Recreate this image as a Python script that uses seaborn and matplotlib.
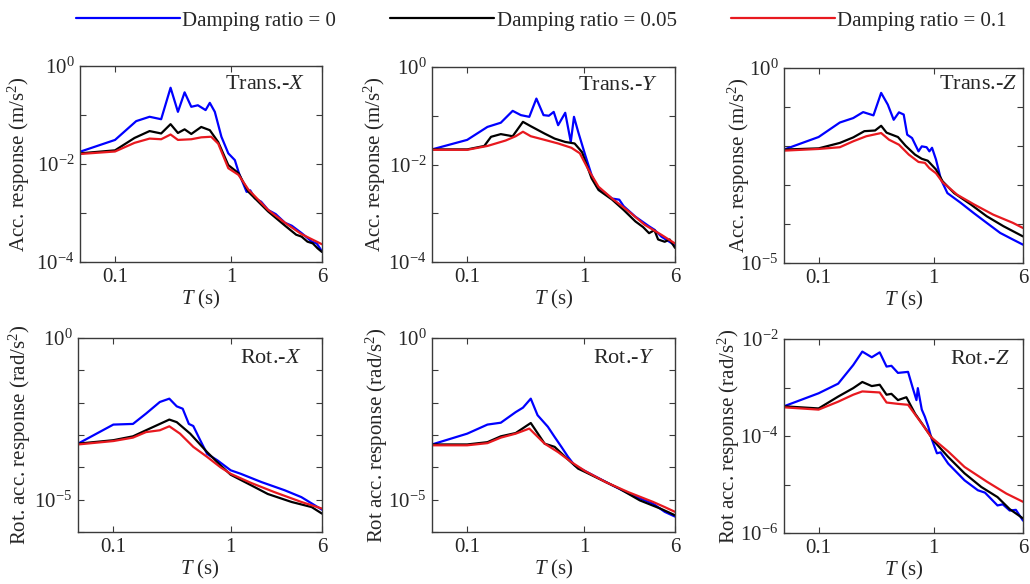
import numpy as np
import pandas as pd
import matplotlib
matplotlib.use("Agg")
import matplotlib.pyplot as plt
import seaborn as sns
from matplotlib.ticker import FixedLocator, FuncFormatter, NullLocator

# ---------------- data ----------------
damping_labels = ["Damping ratio = 0", "Damping ratio = 0.05", "Damping ratio = 0.1"]
line_colors = ["#0000ff", "#000000", "#e8191f"]

# Trans.-X
tx_T0 = [0.05, 0.1, 0.152, 0.198, 0.249, 0.30, 0.347, 0.396, 0.452, 0.515, 0.60, 0.652, 0.72, 0.82, 0.94, 1.07, 1.16, 1.35, 1.45, 1.59, 1.8, 2.07, 2.4, 2.89, 3.3, 4.0, 4.5, 4.9, 5.4, 6.0]
tx_A0 = [0.0178, 0.031, 0.075, 0.092, 0.082, 0.36, 0.116, 0.29, 0.147, 0.158, 0.126, 0.177, 0.116, 0.036, 0.0165, 0.012, 0.0065, 0.0027, 0.0029, 0.002, 0.0017, 0.00115, 0.00095, 0.00063, 0.00055, 0.00039, 0.00031, 0.00026, 0.00024, 0.000165]
tx_T1 = [0.05, 0.1, 0.147, 0.198, 0.249, 0.30, 0.347, 0.396, 0.452, 0.55, 0.652, 0.77, 0.94, 1.15, 1.40, 2.07, 2.89, 3.6, 4.0, 4.5, 5.0, 5.5, 6.0]
tx_A1 = [0.0165, 0.019, 0.034, 0.047, 0.042, 0.065, 0.043, 0.051, 0.041, 0.057, 0.049, 0.028, 0.0095, 0.0065, 0.0027, 0.00107, 0.00055, 0.00036, 0.00033, 0.00026, 0.00024, 0.00019, 0.00016]
tx_T2 = [0.05, 0.1, 0.147, 0.198, 0.249, 0.30, 0.347, 0.452, 0.55, 0.67, 0.77, 0.94, 1.15, 1.40, 2.07, 2.89, 4.0, 6.0]
tx_A2 = [0.016, 0.018, 0.027, 0.033, 0.032, 0.040, 0.031, 0.032, 0.035, 0.036, 0.026, 0.0082, 0.006, 0.003, 0.00115, 0.00063, 0.00037, 0.00023]

# Trans.-Y
ty_T0 = [0.05, 0.1, 0.149, 0.194, 0.245, 0.288, 0.34, 0.391, 0.45, 0.50, 0.55, 0.60, 0.69, 0.77, 0.82, 0.89, 1.02, 1.16, 1.29, 1.74, 2.0, 2.18, 2.75, 3.6, 4.0, 4.6, 6.0]
ty_A0 = [0.0204, 0.032, 0.059, 0.072, 0.126, 0.103, 0.095, 0.225, 0.103, 0.10, 0.12, 0.064, 0.115, 0.029, 0.095, 0.047, 0.016, 0.0061, 0.0035, 0.002, 0.0019, 0.0014, 0.00085, 0.00054, 0.00046, 0.00033, 0.00022]
ty_T1 = [0.05, 0.1, 0.14, 0.16, 0.194, 0.245, 0.30, 0.35, 0.46, 0.56, 0.69, 0.83, 0.96, 1.16, 1.33, 1.74, 2.18, 2.75, 3.2, 3.6, 4.0, 4.3, 4.9, 5.4, 6.0]
ty_A1 = [0.0204, 0.0204, 0.024, 0.037, 0.042, 0.038, 0.075, 0.061, 0.043, 0.034, 0.029, 0.027, 0.018, 0.0052, 0.003, 0.0019, 0.00117, 0.00068, 0.00052, 0.00039, 0.00045, 0.00029, 0.00026, 0.00029, 0.000195]
ty_T2 = [0.05, 0.1, 0.149, 0.213, 0.26, 0.30, 0.35, 0.46, 0.60, 0.78, 0.92, 1.09, 1.33, 1.74, 2.4, 3.3, 4.6, 6.0]
ty_A2 = [0.02, 0.02, 0.024, 0.031, 0.038, 0.047, 0.038, 0.032, 0.027, 0.022, 0.017, 0.0078, 0.0035, 0.002, 0.0011, 0.00058, 0.00036, 0.00024]

# Trans.-Z
tz_T0 = [0.05, 0.1, 0.153, 0.2, 0.244, 0.3, 0.35, 0.40, 0.45, 0.50, 0.55, 0.59, 0.65, 0.74, 0.79, 0.87, 0.92, 0.97, 1.05, 1.16, 1.32, 1.72, 2.24, 2.9, 3.8, 4.9, 6.0]
tz_A0 = [0.0081, 0.017, 0.04, 0.052, 0.074, 0.061, 0.23, 0.115, 0.047, 0.073, 0.064, 0.0195, 0.016, 0.0073, 0.0098, 0.0093, 0.0073, 0.009, 0.0045, 0.00138, 0.00062, 0.00035, 0.00019, 0.000107, 5.9e-5, 4.0e-5, 2.95e-5]
tz_T1 = [0.05, 0.1, 0.153, 0.2, 0.25, 0.31, 0.35, 0.39, 0.49, 0.57, 0.69, 0.79, 0.89, 1.05, 1.2, 1.51, 2.1, 2.9, 4.05, 6.0]
tz_A1 = [0.0081, 0.0087, 0.012, 0.0166, 0.024, 0.025, 0.033, 0.022, 0.017, 0.0102, 0.006, 0.0047, 0.0042, 0.0025, 0.00124, 0.00062, 0.00032, 0.000158, 8.8e-5, 4.8e-5]
tz_T2 = [0.05, 0.1, 0.153, 0.2, 0.26, 0.35, 0.41, 0.50, 0.61, 0.74, 0.84, 0.92, 1.05, 1.2, 1.61, 2.24, 3.3, 4.9, 6.0]
tz_A2 = [0.0076, 0.0084, 0.0093, 0.0132, 0.0178, 0.0215, 0.0145, 0.0108, 0.006, 0.0039, 0.0037, 0.0027, 0.002, 0.00117, 0.00056, 0.00032, 0.000174, 0.000107, 7.9e-5]

# Rot.-X
rx_T0 = [0.05, 0.1, 0.147, 0.19, 0.249, 0.30, 0.347, 0.39, 0.44, 0.48, 0.55, 0.63, 0.77, 1.0, 1.22, 1.83, 2.89, 4.0, 6.0]
rx_A0 = [5.4e-4, 2.1e-3, 2.2e-3, 4.6e-3, 0.0105, 0.0133, 0.0077, 0.0065, 0.0022, 0.0019, 6.9e-4, 2.6e-4, 1.65e-4, 8.1e-5, 6.3e-5, 3.5e-5, 1.95e-5, 1.2e-5, 4.9e-6]
rx_T1 = [0.05, 0.1, 0.147, 0.204, 0.30, 0.347, 0.452, 0.63, 0.82, 1.0, 1.49, 2.07, 3.3, 4.9, 6.0]
rx_A1 = [5.4e-4, 6.9e-4, 9.1e-4, 1.58e-3, 3.0e-3, 2.5e-3, 1.1e-3, 2.95e-4, 1.15e-4, 5.9e-5, 2.8e-5, 1.5e-5, 8.5e-6, 5.9e-6, 3.7e-6]
rx_T2 = [0.05, 0.1, 0.147, 0.19, 0.249, 0.30, 0.37, 0.48, 0.63, 0.82, 1.0, 1.49, 2.37, 4.0, 6.0]
rx_A2 = [5.1e-4, 6.5e-4, 8.3e-4, 1.23e-3, 1.4e-3, 1.86e-3, 1.1e-3, 4.3e-4, 2.1e-4, 1.0e-4, 6.3e-5, 3.3e-5, 1.7e-5, 8.5e-6, 5.3e-6]

# Rot.-Y
ry_T0 = [0.05, 0.1, 0.149, 0.194, 0.26, 0.30, 0.35, 0.40, 0.49, 0.56, 0.64, 0.73, 0.83, 1.02, 1.24, 1.74, 2.6, 3.9, 4.9, 6.0]
ry_A0 = [5.1e-4, 1.1e-3, 2.1e-3, 2.4e-3, 5.1e-3, 7.0e-3, 0.0133, 4.1e-3, 1.8e-3, 8.7e-4, 4.3e-4, 2.1e-4, 1.15e-4, 7.7e-5, 5.3e-5, 2.8e-5, 1.36e-5, 7.5e-6, 4.2e-6, 3.0e-6]
ry_T1 = [0.05, 0.1, 0.149, 0.194, 0.26, 0.35, 0.46, 0.56, 0.69, 0.89, 1.02, 1.33, 2.0, 3.0, 4.5, 6.0]
ry_A1 = [5.1e-4, 5.1e-4, 6.0e-4, 9.1e-4, 1.15e-3, 2.35e-3, 5.4e-4, 4.3e-4, 2.1e-4, 9.1e-5, 7.2e-5, 4.5e-5, 2.2e-5, 9.5e-6, 5.3e-6, 3.3e-6]
ry_T2 = [0.05, 0.1, 0.149, 0.194, 0.26, 0.34, 0.46, 0.60, 0.78, 1.02, 1.53, 2.4, 3.9, 4.9, 6.0]
ry_A2 = [4.8e-4, 4.8e-4, 5.6e-4, 8.3e-4, 1.1e-3, 1.58e-3, 5.4e-4, 2.95e-4, 1.45e-4, 7.7e-5, 3.5e-5, 1.7e-5, 8.5e-6, 5.9e-6, 4.2e-6]

# Rot.-Z
rz_T0 = [0.05, 0.1, 0.148, 0.2, 0.24, 0.29, 0.34, 0.39, 0.43, 0.49, 0.60, 0.66, 0.71, 0.73, 0.79, 0.84, 0.90, 0.96, 1.07, 1.15, 1.34, 1.86, 2.43, 2.8, 3.6, 4.0, 4.6, 5.2, 6.0]
rz_A0 = [4.1e-4, 7.6e-4, 1.2e-3, 2.9e-3, 5.5e-3, 4.2e-3, 5.3e-3, 2.7e-3, 2.8e-3, 2.0e-3, 2.1e-3, 9.7e-4, 5.5e-4, 9.7e-4, 3.5e-4, 2.5e-4, 1.55e-4, 8.9e-5, 4.4e-5, 4.6e-5, 2.7e-5, 1.22e-5, 7.6e-6, 6.8e-6, 3.7e-6, 3.9e-6, 2.9e-6, 3.0e-6, 1.8e-6]
rz_T1 = [0.05, 0.1, 0.148, 0.2, 0.24, 0.29, 0.34, 0.39, 0.43, 0.49, 0.58, 0.69, 0.83, 1.02, 1.34, 1.86, 2.6, 3.6, 4.6, 6.0]
rz_A1 = [4.1e-4, 3.7e-4, 6.5e-4, 9.7e-4, 1.3e-3, 1.07e-3, 1.14e-3, 7.1e-4, 7.4e-4, 5.5e-4, 6.3e-4, 2.9e-4, 1.55e-4, 7.6e-5, 3.7e-5, 1.7e-5, 8.9e-6, 5.5e-6, 3.1e-6, 2.0e-6]
rz_T2 = [0.05, 0.1, 0.148, 0.2, 0.24, 0.34, 0.39, 0.49, 0.60, 0.79, 0.96, 1.34, 1.86, 2.9, 4.3, 6.0]
rz_A2 = [3.9e-4, 3.5e-4, 5.1e-4, 7.1e-4, 8.3e-4, 7.9e-4, 4.9e-4, 4.6e-4, 4.4e-4, 1.8e-4, 9.3e-5, 4.8e-5, 2.3e-5, 1.15e-5, 6.5e-6, 4.4e-6]

panel_titles = ["Trans.-$X$", "Trans.-$Y$", "Trans.-$Z$", "Rot.-$X$", "Rot.-$Y$", "Rot.-$Z$"]
panel_ylabels = ["Acc. response (m/s$^2$)", "Acc. response (m/s$^2$)", "Acc. response (m/s$^2$)",
                 "Rot. acc. response (rad/s$^2$)", "Rot acc. response (rad/s$^2$)", "Rot acc. response (rad/s$^2$)"]
panel_ylims = [(1e-4, 1e0), (1e-4, 1e0), (1e-5, 1e0), (1e-6, 1e0), (1e-6, 1e0), (1e-6, 1e-2)]
panel_yticklabels = [[0, -2, -4], [0, -2, -4], [0, -5], [0, -5], [0, -5], [-2, -4, -6]]
x_ticks = [0.1, 1, 6]
x_ticklabels = ["0.1", "1", "6"]

panels = [
    (tx_T0, tx_A0, tx_T1, tx_A1, tx_T2, tx_A2),
    (ty_T0, ty_A0, ty_T1, ty_A1, ty_T2, ty_A2),
    (tz_T0, tz_A0, tz_T1, tz_A1, tz_T2, tz_A2),
    (rx_T0, rx_A0, rx_T1, rx_A1, rx_T2, rx_A2),
    (ry_T0, ry_A0, ry_T1, ry_A1, ry_T2, ry_A2),
    (rz_T0, rz_A0, rz_T1, rz_A1, rz_T2, rz_A2),
]

# ---------------- style ----------------
sns.set_style("ticks")
plt.rcParams["font.family"] = ["Liberation Serif", "DejaVu Serif"]
plt.rcParams["mathtext.fontset"] = "custom"
plt.rcParams["mathtext.rm"] = "Liberation Serif"
plt.rcParams["mathtext.it"] = "Liberation Serif:italic"
plt.rcParams["mathtext.bf"] = "Liberation Serif:bold"

W, H = 1030, 584
fig = plt.figure(figsize=(W / 100, H / 100), dpi=100)

# pixel boxes: (left, top, right, bottom)
boxes = [(80, 66, 322, 262), (432, 67, 675, 262), (784, 68, 1023, 263),
         (78, 338, 322, 532), (432, 338, 675, 532), (784, 339, 1023, 533)]
label_x = [-0.198, -0.181, -0.134, -0.184, -0.173, -0.176]
title_pos = [(0.93, 0.905), (0.93, 0.905), (0.975, 0.915), (0.915, 0.895), (0.915, 0.895), (0.945, 0.895)]

palette = dict(zip(damping_labels, line_colors))
spine_col = "#3a3a3a"

for i, (box, data) in enumerate(zip(boxes, panels)):
    l, t, r, b = box
    ax = fig.add_axes([l / W, 1 - b / H, (r - l) / W, (b - t) / H])
    frames = []
    for k in range(3):
        frames.append(pd.DataFrame({"T": data[2 * k], "A": data[2 * k + 1], "damping": damping_labels[k]}))
    df = pd.concat(frames, ignore_index=True)
    sns.lineplot(data=df, x="T", y="A", hue="damping", palette=palette, hue_order=damping_labels,
                 estimator=None, sort=False, legend=False, linewidth=1.6, ax=ax)
    ax.set_xscale("log")
    ax.set_yscale("log")
    ax.set_xlim(0.05, 6)
    ax.set_ylim(*panel_ylims[i])

    ax.xaxis.set_major_locator(FixedLocator(x_ticks))
    ax.xaxis.set_major_formatter(FuncFormatter(lambda v, p: x_ticklabels[x_ticks.index(v)] if v in x_ticks else ""))
    ax.xaxis.set_minor_locator(NullLocator())

    lo, hi = panel_ylims[i]
    decs = list(range(int(round(np.log10(lo))), int(round(np.log10(hi))) + 1))
    ax.yaxis.set_major_locator(FixedLocator([10.0 ** d for d in decs]))
    shown = panel_yticklabels[i]
    ax.yaxis.set_major_formatter(FuncFormatter(
        lambda v, p, shown=shown: ("10$^{%d}$" % int(round(np.log10(v))))
        if int(round(np.log10(v))) in shown else ""))
    ax.yaxis.set_minor_locator(NullLocator())

    ax.tick_params(which="both", direction="in", top=True, right=True, length=4, width=0.8,
                   color=spine_col, labelsize=15, pad=4)
    for s in ax.spines.values():
        s.set_color(spine_col)
        s.set_linewidth(1.0)

    ax.set_xlabel("$T$ (s)", fontsize=15, labelpad=1)
    ax.set_ylabel(panel_ylabels[i], fontsize=15)
    ax.yaxis.set_label_coords(label_x[i], 0.5)
    ax.text(title_pos[i][0], title_pos[i][1], panel_titles[i], transform=ax.transAxes,
            ha="right", va="center", fontsize=16)
    if i == 0:
        legend_handles = ax.get_lines()[:3]

fig.legend(handles=legend_handles, labels=damping_labels, loc="center left",
           bbox_to_anchor=(76 / W, 1 - 21 / H), ncol=3, frameon=False, fontsize=15,
           handlelength=5.0, handletextpad=0.1, columnspacing=2.6, borderaxespad=0, borderpad=0)

fig.savefig("out.png", dpi=100)
